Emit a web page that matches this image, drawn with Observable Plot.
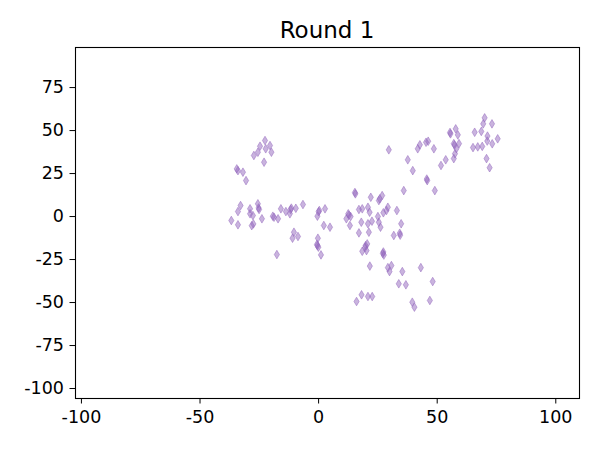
<!DOCTYPE html>
<html>
<head>
<meta charset="utf-8">
<script src="https://cdn.jsdelivr.net/npm/d3@7"></script>
<script src="https://cdn.jsdelivr.net/npm/@observablehq/plot@0.6"></script>
<style>
  html, body { margin: 0; padding: 0; background: #fff; }
  #wrap { position: relative; width: 600px; height: 450px; font-family: "DejaVu Sans", sans-serif; }
  #title { position: absolute; left: 75px; width: 504px; top: 19px; text-align: center; font-size: 23px; line-height: 23px; color: #000; white-space: nowrap; }
</style>
</head>
<body>
<div id="wrap"><div id="title">Round 1</div></div>
<script>
// Cluster points
const xValues = [
  -22.6,-24.7,-20.5,-22.3,-19.9,-25.6,-27.3,-23.0,-34.5,-34.0,-31.9,-30.6,
  -32.9,-34.0,-28.9,-25.6,-25.1,-25.3,-28.9,-27.7,-36.8,-34.0,-27.5,-28.2,-23.9,-18.8,-19.3,-17.1,-15.9,-13.8,-11.8,-11.5,-12.1,-9.6,-6.6,-10.4,-11.0,-8.7,-17.6,0.3,0.0,2.7,-0.5,2.2,4.8,-0.3,-0.5,-0.7,-0.1,1.0,
  15.5,15.3,22.0,25.8,26.8,25.4,12.5,12.8,11.7,13.5,17.0,18.4,20.8,21.5,13.2,18.0,20.8,22.5,25.0,25.4,26.1,27.3,28.6,29.2,33.0,17.0,21.2,34.8,31.7,34.2,34.4,19.8,20.5,19.6,18.4,20.2,27.1,27.3,27.5,21.6,29.2,30.7,29.9,35.3,43.1,33.8,36.8,48.1,18.1,20.8,22.6,16.0,39.5,40.4,46.9,
  29.6,37.6,39.7,45.8,45.6,35.9,49.0,41.8,42.7,45.3,46.2,48.6,51.6,53.6,55.6,55.4,57.8,58.7,57.0,57.3,59.2,58.1,57.5,57.0,65.8,68.6,70.0,69.4,73.1,71.2,75.5,65.1,67.1,69.0,71.1,73.2,70.8,72.1
];
const yValues = [
  44.2,40.9,41.3,39.4,37.4,37.4,35.5,31.6,27.7,26.7,25.8,20.9,
  6.4,2.9,4.5,7.4,4.1,5.0,1.6,0.6,-2.3,-4.8,-4.3,-5.3,-1.3,-0.4,0.2,-1.3,4.5,2.9,4.1,4.9,1.6,4.8,7.0,-9.1,-12.6,-11.6,-22.1,3.5,2.8,4.5,0.2,-5.2,-6.2,-12.6,-16.9,-16.2,-17.8,-22.3,
  13.2,14.0,11.2,10.3,12.2,9.3,1.6,0.8,-1.3,0.0,4.1,4.5,5.4,2.5,-5.2,-3.3,-4.2,-2.7,0.0,-3.3,-6.2,2.2,3.5,5.4,3.5,-9.5,-9.1,-4.2,-11.0,-9.7,-10.8,-16.9,-15.9,-18.0,-20.2,-19.8,-21.5,-20.6,-22.4,-28.8,-29.7,-28.5,-32.0,-32.0,-29.7,-39.1,-39.7,-37.8,-45.5,-46.5,-46.5,-49.4,-49.8,-52.7,-48.8,
  38.8,33.0,26.7,20.9,21.8,15.1,15.1,39.4,41.7,43.2,43.8,39.4,29.7,33.0,48.1,48.9,51.0,47.5,42.4,41.6,42.4,39.5,36.5,33.7,49.0,49.5,57.4,53.9,53.9,46.8,45.2,40.1,40.5,40.8,43.9,42.3,33.7,28.4
];
const xTicks = [-100, -50, 0, 50, 100];
const yTicks = [-100, -75, -50, -25, 0, 25, 50, 75];

const points = xValues.map((x, i) => ({x, y: yValues[i]}));

const thinDiamond = {
  draw(ctx, size) {
    const r = Math.sqrt(size / Math.PI);
    const w = r * 0.6;
    ctx.moveTo(0, -r);
    ctx.lineTo(w, 0);
    ctx.lineTo(0, r);
    ctx.lineTo(-w, 0);
    ctx.closePath();
  }
};

const chart = Plot.plot({
  width: 600,
  height: 450,
  marginLeft: 75,
  marginRight: 21,
  marginTop: 47,
  marginBottom: 52,
  style: {fontFamily: "DejaVu Sans", fontSize: "17.5px", color: "#000", background: "#fff"},
  x: {domain: [-102.5, 110], ticks: xTicks},
  y: {domain: [-105.8, 98.3], ticks: yTicks},
  marks: [
    Plot.axisX({ticks: xTicks, tickSize: 5.5, tickPadding: 6.5, fontSize: 17.5, tickFormat: d => String(d), label: null}),
    Plot.axisY({ticks: yTicks, tickSize: 5.5, tickPadding: 6, fontSize: 17.5, tickFormat: d => String(d), label: null}),
    Plot.dot(points, {x: "x", y: "y", symbol: thinDiamond, r: 4.3,
      fill: "#9467bd", fillOpacity: 0.5, stroke: "#9467bd", strokeOpacity: 0.5, strokeWidth: 1}),
    Plot.frame({stroke: "#000", strokeWidth: 1.1})
  ]
});
document.getElementById("wrap").appendChild(chart);
</script>
</body>
</html>
